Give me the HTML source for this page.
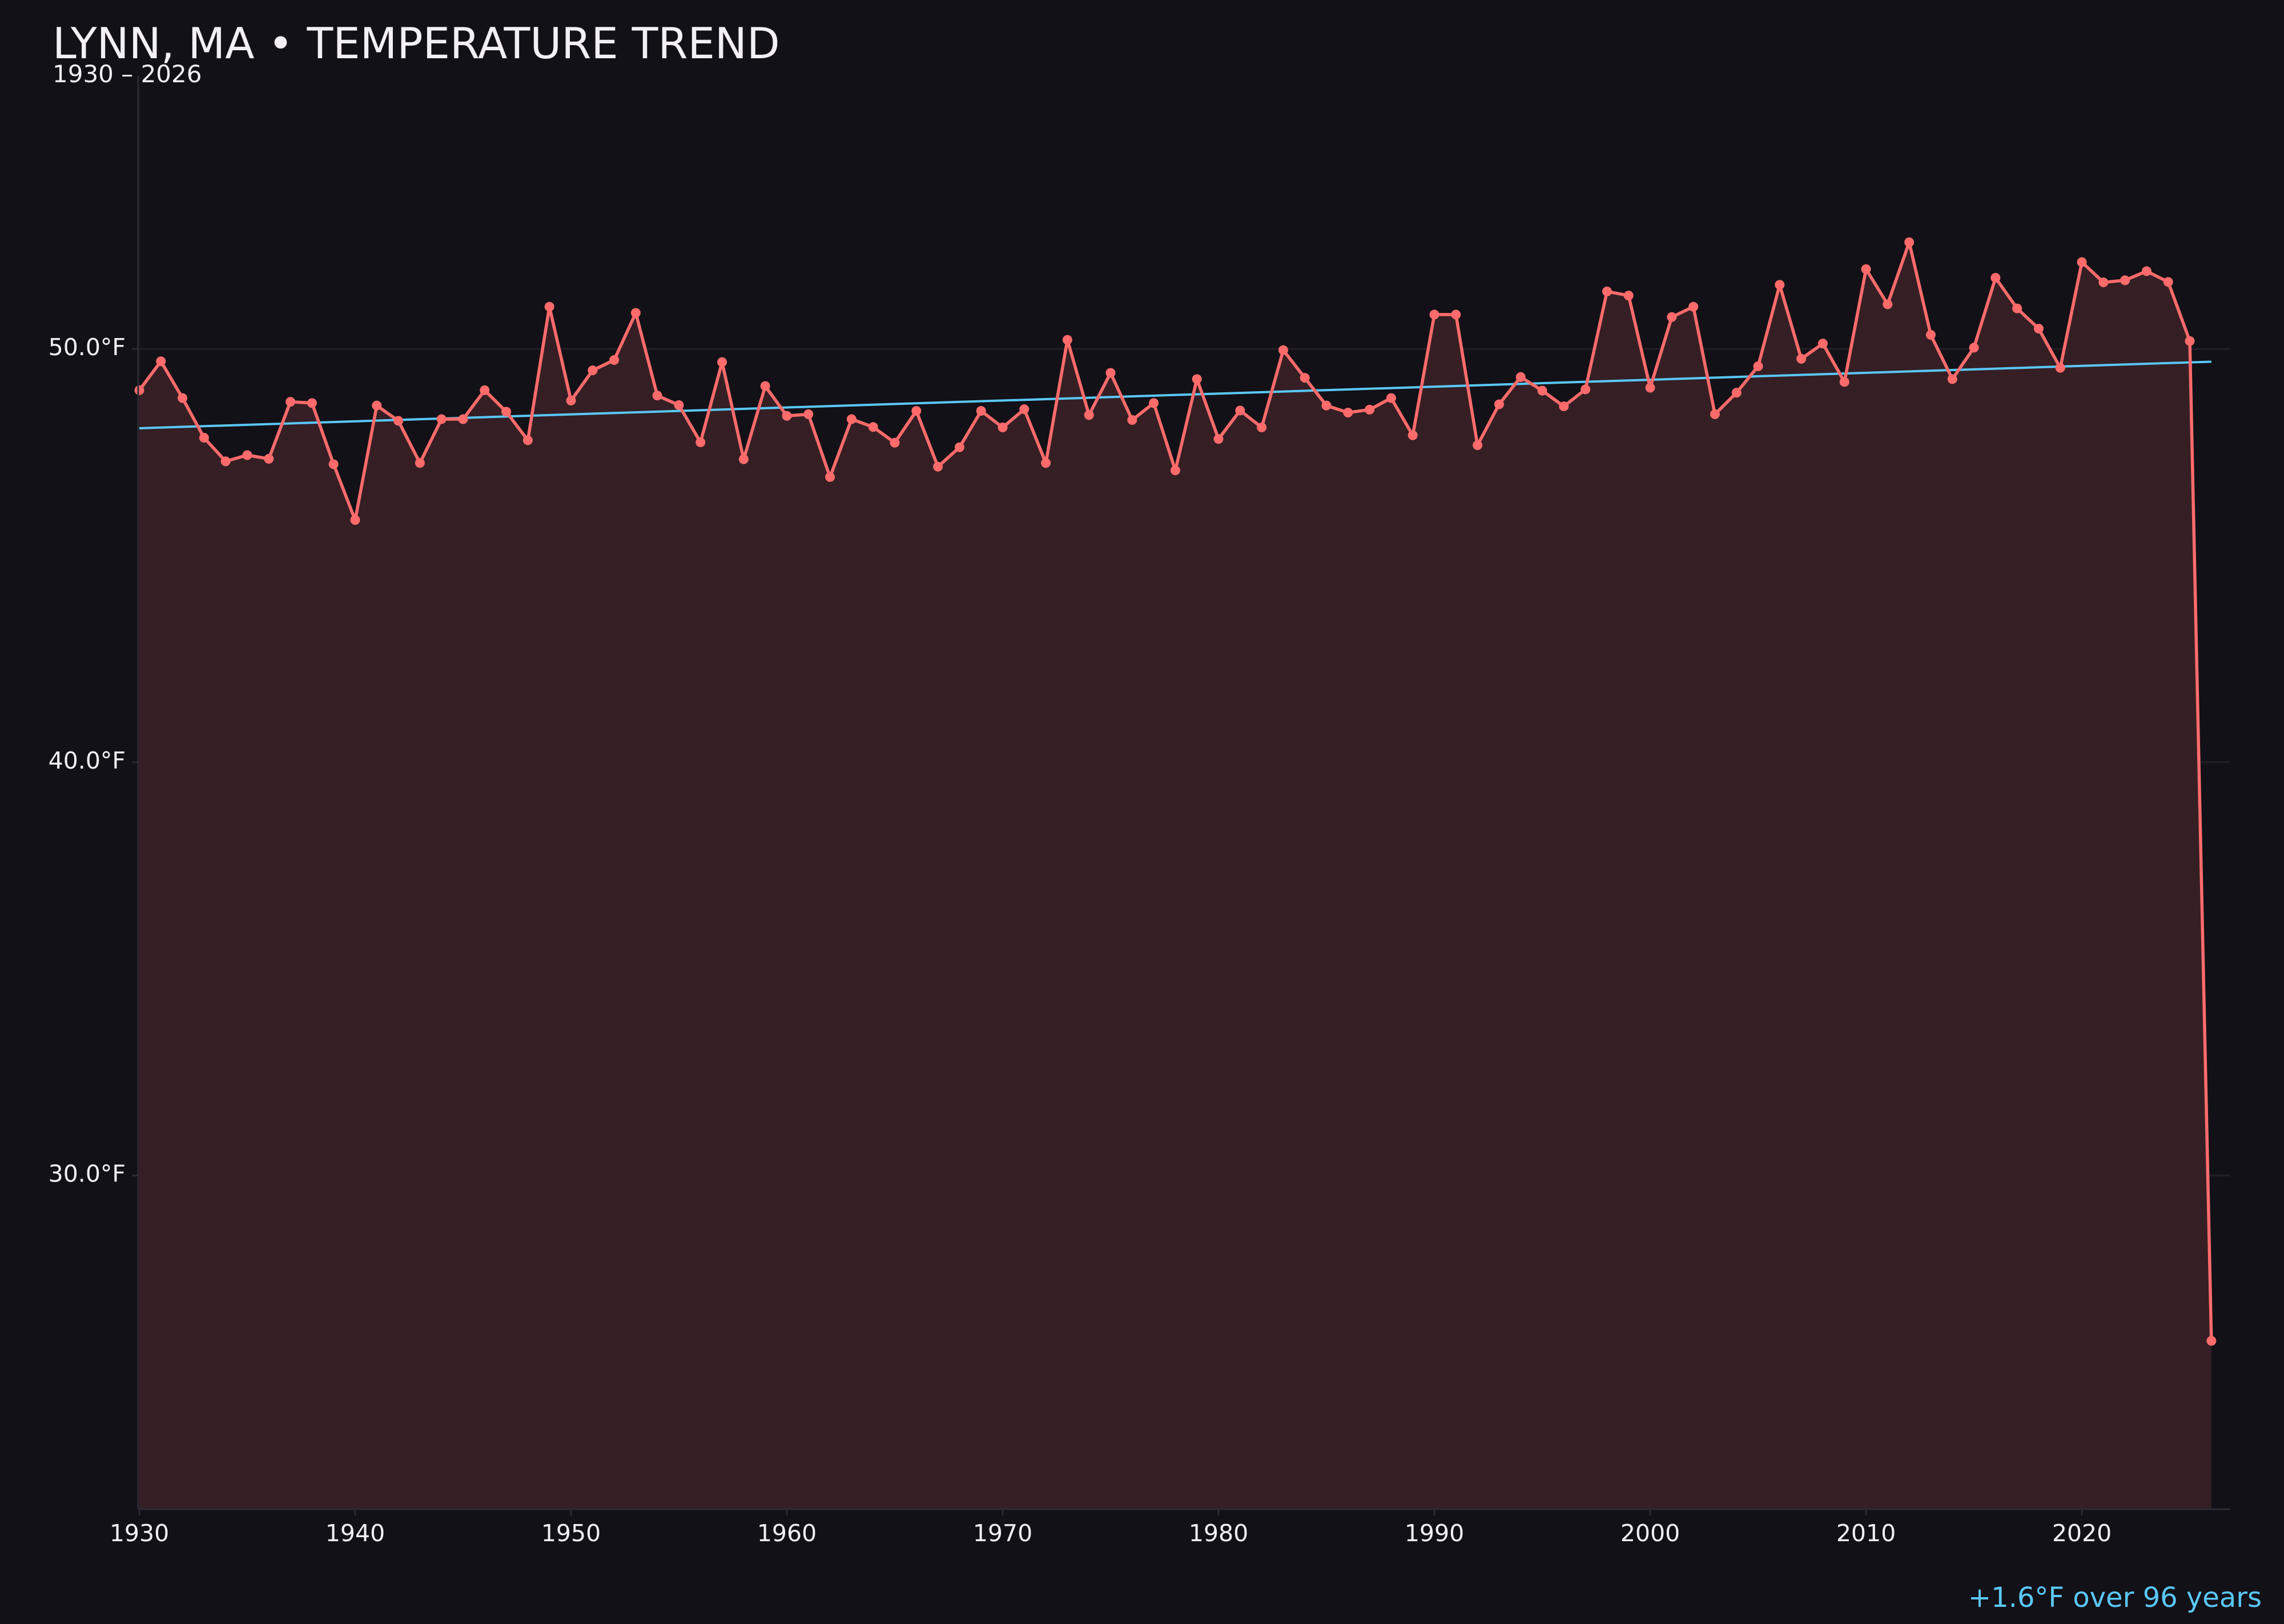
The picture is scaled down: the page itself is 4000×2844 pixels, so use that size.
<!DOCTYPE html>
<html><head><meta charset="utf-8"><style>
html,body{margin:0;padding:0;background:#121117;}
svg{display:block;font-family:"DejaVu Sans","Liberation Sans",sans-serif;}
</style></head><body>
<svg id="chart" width="4000" height="2844" viewBox="0 0 4000 2844" xmlns="http://www.w3.org/2000/svg">
<rect width="4000" height="2844" fill="#121117"/>
<text x="92" y="102" font-size="75" fill="#f2f0f5">LYNN, MA • TEMPERATURE TREND</text>
<text x="92" y="144" font-size="42" fill="#f2f0f5">1930 – 2026</text>
<g id="grid"></g>
<g id="area"></g>
<g id="trend"></g>
<g id="series"></g>
<g id="axes"></g>
<text x="3961" y="2814" font-size="48" fill="#5ac8fa" text-anchor="end">+1.6°F over 96 years</text>
</svg>
<script>
const years = [];
for (let y = 1930; y <= 2026; y++) years.push(y);
const temps = [
49.0,49.7,48.81,47.85,47.28,47.43,47.34,48.72,48.69,47.21,
45.86,48.63,48.26,47.24,48.30,48.30,49.0,48.48,47.79,51.02,
48.75,49.48,49.73,50.87,48.87,48.64,47.74,49.68,47.33,49.1,
48.38,48.42,46.9,48.30,48.11,47.73,48.5,47.15,47.62,48.5,
48.1,48.54,47.24,50.22,48.4,49.42,48.28,48.69,47.06,49.27,
47.82,48.51,48.1,49.97,49.3,48.63,48.46,48.53,48.81,47.91,
50.83,50.83,47.67,48.66,49.32,48.99,48.61,49.02,51.39,51.29,
49.06,50.77,51.02,48.42,48.94,49.58,51.55,49.76,50.13,49.2,
51.93,51.08,52.58,50.34,49.27,50.03,51.72,50.98,50.49,49.54,
52.1,51.61,51.66,51.88,51.62,50.19,26.0
];
const trendYears = [1930, 2026];
const trendValues = [48.08, 49.69];
const yTicks = [30, 40, 50];
const yTickLabels = ["30.0°F", "40.0°F", "50.0°F"];
const xTicks = [1930, 1940, 1950, 1960, 1970, 1980, 1990, 2000, 2010, 2020];
const xTickLabels = ["1930","1940","1950","1960","1970","1980","1990","2000","2010","2020"];

const NS = "http://www.w3.org/2000/svg";
const X0 = 244, XPER = 37.8, PLOT_L = 242, PLOT_R = 3906, PLOT_T = 133, PLOT_B = 2643;
const Y50 = 611, YPER = 72.38;
function xs(yr){ return X0 + (yr - 1930) * XPER; }
function ys(v){ return Y50 + (50 - v) * YPER; }
function mk(tag, attrs, parent){ const e = document.createElementNS(NS, tag); for (const k in attrs) e.setAttribute(k, attrs[k]); parent.appendChild(e); return e; }

const grid = document.getElementById('grid');
const axes = document.getElementById('axes');
yTicks.forEach((t, i) => {
  const g = mk('line', {x1: PLOT_L, x2: PLOT_R, y1: ys(t), y2: ys(t), stroke: '#221f28', 'stroke-width': 3}, grid);
  
  
  const tk = mk('line', {x1: PLOT_L - 11, x2: PLOT_L, y1: ys(t), y2: ys(t), stroke: '#2c2b34', 'stroke-width': 3}, axes);
  
  
  const lb = mk('text', {x: 220, y: ys(t) + 11, 'font-size': 41, fill: '#f2f0f5', 'text-anchor': 'end'}, axes);
  lb.textContent = yTickLabels[i];
  
  
});
const yAxis = mk('line', {x1: PLOT_L, x2: PLOT_L, y1: PLOT_T, y2: PLOT_B, stroke: '#2c2b34', 'stroke-width': 3}, axes);


const xAxis = mk('line', {x1: PLOT_L, x2: PLOT_R, y1: PLOT_B, y2: PLOT_B, stroke: '#2c2b34', 'stroke-width': 3}, axes);


xTicks.forEach((t, i) => {
  const tk = mk('line', {x1: xs(t), x2: xs(t), y1: PLOT_B, y2: PLOT_B + 11, stroke: '#2c2b34', 'stroke-width': 3}, axes);
  
  
  const lb = mk('text', {x: xs(t), y: 2699, 'font-size': 41, fill: '#f2f0f5', 'text-anchor': 'middle'}, axes);
  lb.textContent = xTickLabels[i];
  
  
});

let pts = years.map((yr, i) => xs(yr).toFixed(1) + ',' + ys(temps[i]).toFixed(1));
const area = mk('path', {d: 'M' + xs(years[0]) + ',' + PLOT_B + ' L' + pts.join(' L') + ' L' + xs(years[years.length-1]) + ',' + PLOT_B + ' Z', fill: '#351f25'}, document.getElementById('area'));



const tr = mk('line', {x1: xs(trendYears[0]), y1: ys(trendValues[0]), x2: xs(trendYears[1]), y2: ys(trendValues[1]), stroke: '#5ac8fa', 'stroke-width': 4}, document.getElementById('trend'));



const series = document.getElementById('series');
const line = mk('polyline', {points: pts.join(' '), fill: 'none', stroke: '#ff6b6b', 'stroke-width': 5.5, 'stroke-linejoin': 'round'}, series);


years.forEach((yr, i) => {
  const c = mk('circle', {cx: xs(yr), cy: ys(temps[i]), r: 8.5, fill: '#ff6b6b'}, series);
  
  
});
</script>
</body></html>
